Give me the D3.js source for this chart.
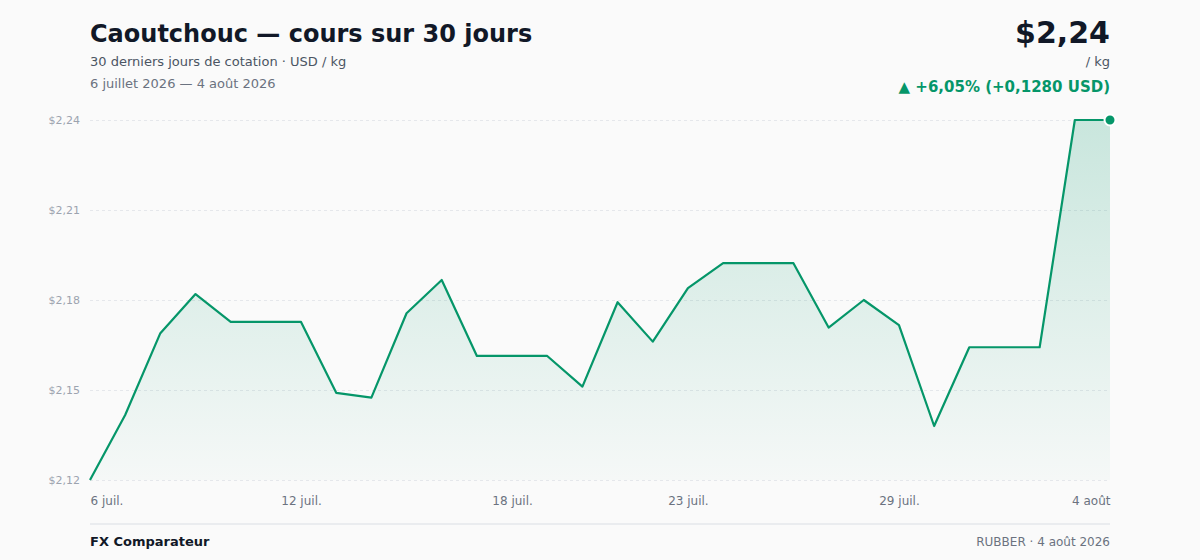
<!DOCTYPE html>
<html lang="fr">
<head>
<meta charset="utf-8">
<script src="https://cdn.jsdelivr.net/npm/d3@7"></script>
<style>
  html, body { margin: 0; padding: 0; background: #fafafa; }
  svg { display: block; font-family: "DejaVu Sans", sans-serif; }
</style>
</head>
<body>
<div id="chart"></div>
<script>
// Données : 30 jours de cotation
var dates = ["2026-07-06","2026-07-07","2026-07-08","2026-07-09","2026-07-10","2026-07-11","2026-07-12",
  "2026-07-13","2026-07-14","2026-07-15","2026-07-16","2026-07-17","2026-07-18","2026-07-19",
  "2026-07-20","2026-07-21","2026-07-22","2026-07-23","2026-07-24","2026-07-25","2026-07-26",
  "2026-07-27","2026-07-28","2026-07-29","2026-07-30","2026-07-31","2026-08-01","2026-08-02",
  "2026-08-03","2026-08-04"];
var prices = [2.1157, 2.1388, 2.1679, 2.1818, 2.1719, 2.1719, 2.1719,
  2.1467, 2.1450, 2.1750, 2.1868, 2.1598, 2.1598, 2.1598,
  2.1489, 2.1789, 2.1649, 2.1839, 2.1928, 2.1928, 2.1928,
  2.1699, 2.1797, 2.1708, 2.1349, 2.1629, 2.1629, 2.1629,
  2.2437, 2.2437];
var tickDates = ["2026-07-06","2026-07-12","2026-07-18","2026-07-23","2026-07-29","2026-08-04"];
var tickLabels = ["6 juil.","12 juil.","18 juil.","23 juil.","29 juil.","4 août"];

var width = 1200, height = 560;
var margin = {top: 120, right: 90, bottom: 80, left: 90};

var parse = d3.timeParse("%Y-%m-%d");
var data = dates.map(function(d, i) { return {date: parse(d), value: prices[i]}; });

var svg = d3.select("#chart").append("svg")
    .attr("width", width).attr("height", height);

var x = d3.scaleTime()
    .domain(d3.extent(data, function(d) { return d.date; }))
    .range([margin.left, width - margin.right]);

var yMin = d3.min(prices), yMax = d3.max(prices);
var y = d3.scaleLinear()
    .domain([yMin, yMax])
    .range([height - margin.bottom, margin.top]);

var fmt = function(v) { return "$" + v.toFixed(2).replace(".", ","); };

// Gradient de l'aire
var grad = svg.append("defs").append("linearGradient")
    .attr("id", "fillGrad")
    .attr("gradientUnits", "userSpaceOnUse")
    .attr("x1", 0).attr("x2", 0)
    .attr("y1", y(yMax)).attr("y2", y(yMin));
grad.append("stop").attr("offset", "0%").attr("stop-color", "#059669").attr("stop-opacity", 0.2);
grad.append("stop").attr("offset", "100%").attr("stop-color", "#059669").attr("stop-opacity", 0.02);

// Grille + axe Y (5 graduations régulières entre min et max)
var yTicks = d3.range(5).map(function(i) { return yMin + (yMax - yMin) * i / 4; });
var yAxis = svg.append("g")
    .attr("transform", "translate(" + margin.left + ",0)")
    .call(d3.axisLeft(y).tickValues(yTicks).tickFormat(fmt)
      .tickSize(-(width - margin.left - margin.right)).tickPadding(10));
yAxis.attr("font-family", null).attr("font-size", null);
yAxis.select(".domain").remove();
yAxis.selectAll(".tick line")
    .attr("stroke", "#e5e7eb")
    .attr("stroke-dasharray", "3,3");
yAxis.selectAll(".tick text")
    .attr("fill", "#9ca3af")
    .style("font-size", "11px");

// Axe X
var xAxis = svg.append("g")
    .attr("transform", "translate(0," + (height - margin.bottom) + ")")
    .call(d3.axisBottom(x).tickValues(tickDates.map(parse))
      .tickFormat(function(d, i) { return tickLabels[i]; })
      .tickSize(0).tickPadding(16));
xAxis.attr("font-family", null).attr("font-size", null);
xAxis.select(".domain").remove();
xAxis.selectAll(".tick text")
    .attr("fill", "#6b7280")
    .style("font-size", "12px")
    .attr("text-anchor", function(d, i) {
      return i === 0 ? "start" : (i === tickDates.length - 1 ? "end" : "middle");
    });

// Aire et ligne
var area = d3.area()
    .x(function(d) { return x(d.date); })
    .y0(y(yMin))
    .y1(function(d) { return y(d.value); });
var line = d3.line()
    .x(function(d) { return x(d.date); })
    .y(function(d) { return y(d.value); });

svg.append("path").datum(data)
    .attr("d", area)
    .attr("fill", "url(#fillGrad)");
svg.append("path").datum(data)
    .attr("d", line)
    .attr("fill", "none")
    .attr("stroke", "#059669")
    .attr("stroke-width", 2.2)
    .attr("stroke-linejoin", "round");

var last = data[data.length - 1];
svg.append("circle")
    .attr("cx", x(last.date)).attr("cy", y(last.value))
    .attr("r", 5.5)
    .attr("fill", "#059669")
    .attr("stroke", "#ffffff")
    .attr("stroke-width", 2);

// En-tête
svg.append("text").attr("x", 90).attr("y", 42)
    .attr("fill", "#111827").style("font-size", "24px").style("font-weight", "bold")
    .text("Caoutchouc — cours sur 30 jours");
svg.append("text").attr("x", 90).attr("y", 66)
    .attr("fill", "#4b5563").style("font-size", "13px")
    .text("30 derniers jours de cotation · USD / kg");
svg.append("text").attr("x", 90).attr("y", 88)
    .attr("fill", "#6b7280").style("font-size", "13px")
    .text("6 juillet 2026 — 4 août 2026");

var first = data[0];
var diff = last.value - first.value;
var pct = diff / first.value * 100;

svg.append("text").attr("x", 1110).attr("y", 43)
    .attr("text-anchor", "end")
    .attr("fill", "#111827").style("font-size", "30px").style("font-weight", "bold")
    .text(fmt(last.value));
svg.append("text").attr("x", 1110).attr("y", 66)
    .attr("text-anchor", "end")
    .attr("fill", "#4b5563").style("font-size", "13px")
    .text("/ kg");
svg.append("text").attr("x", 1110).attr("y", 92)
    .attr("text-anchor", "end")
    .attr("fill", "#059669").style("font-size", "15px").style("font-weight", "bold")
    .text("▲ +" + pct.toFixed(2).replace(".", ",") + "% (+" + diff.toFixed(4).replace(".", ",") + " USD)");

// Pied de page
svg.append("line")
    .attr("x1", 90).attr("x2", 1110).attr("y1", 524).attr("y2", 524)
    .attr("stroke", "#e5e7eb").attr("stroke-width", 1.5);
svg.append("text").attr("x", 90).attr("y", 546)
    .attr("fill", "#111827").style("font-size", "13px").style("font-weight", "bold")
    .text("FX Comparateur");
svg.append("text").attr("x", 1110).attr("y", 546)
    .attr("text-anchor", "end")
    .attr("fill", "#6b7280").style("font-size", "12px")
    .text("RUBBER · 4 août 2026");
</script>
</body>
</html>
